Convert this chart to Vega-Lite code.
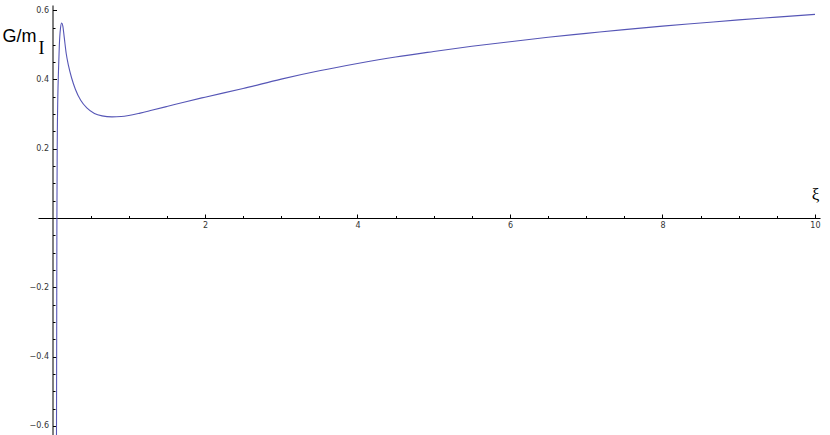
{
  "$schema": "https://vega.github.io/schema/vega-lite/v6.json",
  "width": 782,
  "height": 430,
  "autosize": {"type": "none"},
  "padding": {"left": 38, "top": 5, "right": 10, "bottom": 0},
  "background": "white",
  "config": {
    "view": {"stroke": null},
    "axis": {
      "grid": false,
      "labelFont": "DejaVu Sans",
      "labelFontSize": 8,
      "labelColor": "#333333",
      "domainColor": "#000000",
      "tickColor": "#000000",
      "domainWidth": 1,
      "tickWidth": 1,
      "titleColor": "#000000",
      "titleFontWeight": "normal",
      "labelFlush": false,
      "labelOverlap": false
    }
  },
  "data": {
    "values": [
      {"xi": 0.052, "g": -0.68},
      {"xi": 0.055, "g": -0.35},
      {"xi": 0.058, "g": 0.0},
      {"xi": 0.062, "g": 0.2},
      {"xi": 0.070, "g": 0.35},
      {"xi": 0.078, "g": 0.42},
      {"xi": 0.090, "g": 0.50},
      {"xi": 0.105, "g": 0.548},
      {"xi": 0.120, "g": 0.563},
      {"xi": 0.135, "g": 0.555},
      {"xi": 0.155, "g": 0.52},
      {"xi": 0.18, "g": 0.475},
      {"xi": 0.21, "g": 0.44},
      {"xi": 0.25, "g": 0.405},
      {"xi": 0.30, "g": 0.372},
      {"xi": 0.37, "g": 0.34},
      {"xi": 0.45, "g": 0.318},
      {"xi": 0.55, "g": 0.302},
      {"xi": 0.65, "g": 0.295},
      {"xi": 0.78, "g": 0.292},
      {"xi": 0.90, "g": 0.293},
      {"xi": 1.0, "g": 0.296},
      {"xi": 1.15, "g": 0.303},
      {"xi": 1.3, "g": 0.311},
      {"xi": 1.5, "g": 0.322},
      {"xi": 1.75, "g": 0.336},
      {"xi": 2.0, "g": 0.349},
      {"xi": 2.5, "g": 0.374},
      {"xi": 3.0, "g": 0.401},
      {"xi": 3.5, "g": 0.425},
      {"xi": 4.0, "g": 0.446},
      {"xi": 4.5, "g": 0.465},
      {"xi": 5.0, "g": 0.481},
      {"xi": 5.5, "g": 0.496},
      {"xi": 6.0, "g": 0.509},
      {"xi": 6.5, "g": 0.522},
      {"xi": 7.0, "g": 0.533},
      {"xi": 7.5, "g": 0.544},
      {"xi": 8.0, "g": 0.554},
      {"xi": 8.5, "g": 0.563},
      {"xi": 9.0, "g": 0.572},
      {"xi": 9.5, "g": 0.580},
      {"xi": 10.0, "g": 0.588}
    ]
  },
  "layer": [
    {
      "mark": {"type": "point", "opacity": 0},
      "encoding": {
        "x": {
          "field": "xi", "type": "quantitative",
          "scale": {"domain": [-0.19, 10.066], "nice": false, "zero": false},
          "axis": {
            "orient": "top", "offset": -213, "labels": false, "domain": true,
            "values": [0.5,1,1.5,2,2.5,3,3.5,4,4.5,5,5.5,6,6.5,7,7.5,8,8.5,9,9.5,10],
            "tickSize": {"condition": {"test": "abs(datum.value/2 - round(datum.value/2)) < 0.001", "value": 4}, "value": 2.5},
            "title": null
          }
        },
        "y": {
          "field": "g", "type": "quantitative",
          "scale": {"domain": [-0.626, 0.615], "nice": false, "zero": false},
          "axis": {
            "orient": "right", "offset": -767.5, "labels": false, "domain": true,
            "values": [-0.6,-0.55,-0.5,-0.45,-0.4,-0.35,-0.3,-0.25,-0.2,-0.15,-0.1,-0.05,0.05,0.1,0.15,0.2,0.25,0.3,0.35,0.4,0.45,0.5,0.55,0.6],
            "tickSize": {"condition": {"test": "abs(datum.value*5 - round(datum.value*5)) < 0.001", "value": 4}, "value": 2.5},
            "title": "I",
            "titleFont": "Liberation Serif",
            "titleFontSize": 18,
            "titleAngle": 0,
            "titleAlign": "center",
            "titleBaseline": "alphabetic",
            "titleX": -11.5,
            "titleY": 48.3
          }
        }
      }
    },
    {
      "mark": {"type": "line", "interpolate": "monotone", "clip": true, "color": "#5656b6", "strokeWidth": 1.1},
      "encoding": {
        "x": {
          "field": "xi", "type": "quantitative",
          "axis": {
            "orient": "bottom", "offset": -217, "domain": false, "ticks": false,
            "values": [2,4,6,8,10], "format": "d", "labelPadding": 3,
            "title": "ξ",
            "titleFont": "Liberation Serif",
            "titleFontSize": 17,
            "titleAngle": 0,
            "titleAlign": "center",
            "titleBaseline": "alphabetic",
            "titleX": 777,
            "titleY": -19
          }
        },
        "y": {
          "field": "g", "type": "quantitative",
          "axis": {
            "orient": "left", "offset": -14.5, "domain": false, "ticks": false,
            "values": [-0.6,-0.4,-0.2,0.2,0.4,0.6], "format": ".1f", "labelPadding": 4,
            "title": "G/m",
            "titleFont": "Liberation Sans",
            "titleFontSize": 18,
            "titleAngle": 0,
            "titleAlign": "left",
            "titleBaseline": "alphabetic",
            "titleX": -50.5,
            "titleY": 36
          }
        }
      }
    }
  ],
  "resolve": {"axis": {"x": "independent", "y": "independent"}}
}
